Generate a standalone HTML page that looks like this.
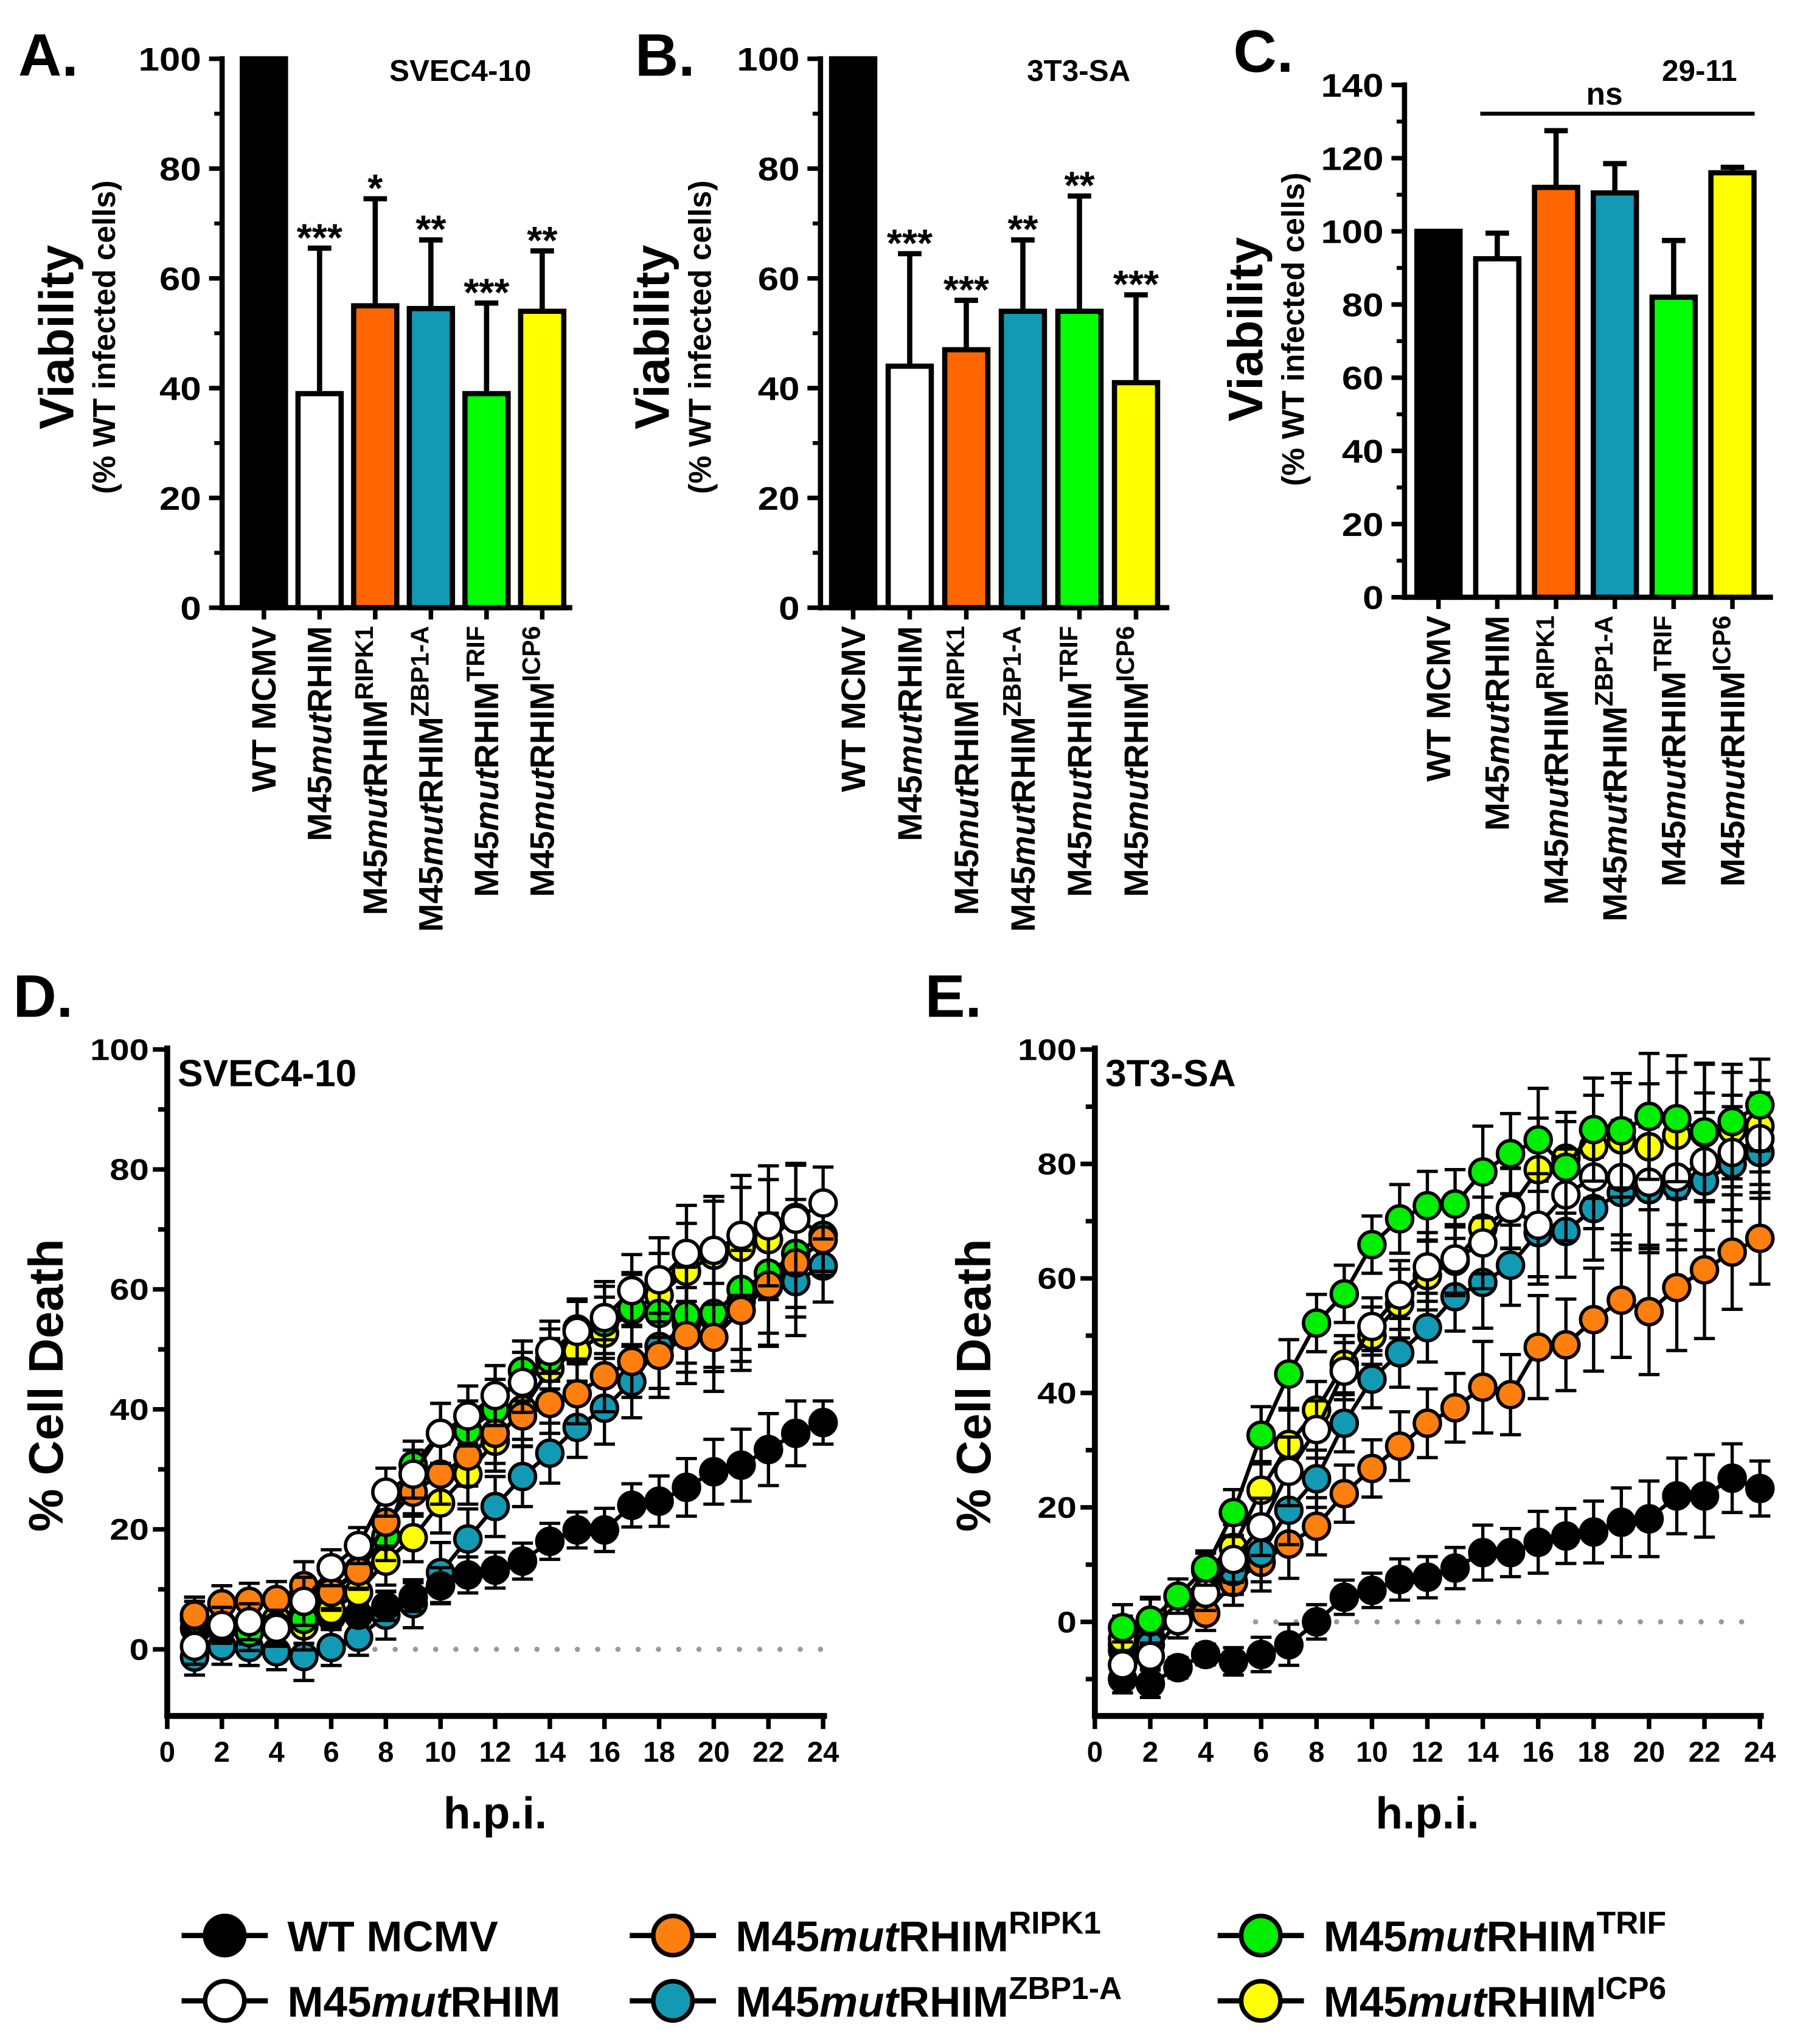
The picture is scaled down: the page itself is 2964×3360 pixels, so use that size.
<!DOCTYPE html>
<html><head><meta charset="utf-8"><style>
html,body{margin:0;padding:0;background:#fff;}
svg{display:block;font-family:"Liberation Sans",Arial,sans-serif;font-weight:bold;}
</style></head><body>
<svg id="fig" xmlns="http://www.w3.org/2000/svg" width="2964" height="3360" viewBox="0 0 1380 1564" preserveAspectRatio="none">
<rect width="1380" height="1564" fill="#fff"/>
<g font-size="46">
<text x="14" y="58">A.</text>
<text x="486" y="58">B.</text>
<text x="944" y="55">C.</text>
<text x="10" y="778">D.</text>
<text x="708" y="778">E.</text>
</g>
<g id="bars"></g>
<g id="lines"></g>
<g id="legend"></g>
</svg>
<script>
// ---------- Bar chart data ----------
const barCategories = ["WT MCMV","M45mutRHIM","M45mutRHIM|RIPK1","M45mutRHIM|ZBP1-A","M45mutRHIM|TRIF","M45mutRHIM|ICP6"];
const barColors = ["#000000","#ffffff","#ff6600","#1299b3","#00ff00","#ffff00"];
const barA = [100, 39, 55, 54.5, 39, 54];
const errA = [0, 26.5, 19.5, 12.5, 16.5, 11];
const sigA = ["", "***", "*", "**", "***", "**"];
const barB = [100, 44, 47, 54, 54, 41];
const errB = [0, 20.5, 9, 13, 21, 16];
const sigB = ["", "***", "***", "**", "**", "***"];
const barC = [100, 92.5, 112, 110.5, 82, 116];
const errC = [0, 7, 15.5, 8, 15.5, 1.5];
const ticksAB = [0,20,40,60,80,100];
const ticksC = [0,20,40,60,80,100,120,140];

// ---------- Time-course data ----------
const hours = [1,2,3,4,5,6,7,8,9,10,11,12,13,14,15,16,17,18,19,20,21,22,23,24];
const xTicks = [0,2,4,6,8,10,12,14,16,18,20,22,24];
const yTicksLine = [0,20,40,60,80,100];
// SVEC4-10 (panel D)
const dWT    = [3.5,3.5,4.6,5,6.5,5.4,5.7,7.2,8.7,10.6,12.4,13.2,14.7,18,19.9,19.9,24,24.7,27,29.6,30.7,33.3,36,37.8];
const dMut   = [0.5,4,4.6,3.5,8,13.6,17.3,26.2,29.2,36,38.9,42.3,44.5,49.7,53,55.3,59.8,61.6,66,66.5,69,70.6,71.7,74.4];
const dRIPK1 = [5.7,7.6,8,8.3,10.6,9.5,13,21.2,26.2,29.2,32.2,36,38.9,41,42.6,45.6,48,49,52.3,52,56.5,60.7,64.4,68.3];
const dZBP1  = [-1.3,0.5,0.3,-0.4,-1.2,0.3,2,5.7,7.6,12.8,18.4,23.8,28.8,32.7,37,40.2,44.6,50.5,54.2,55.3,58,60.5,61.3,63.9];
const dTRIF  = [5,4.2,2.8,3.9,5,9.8,13.2,18.8,30.7,36,36.4,40,46.4,48.4,53.4,54.5,56.8,56,55.7,56,60,62.7,66,69];
const dICP6  = [5.7,4,3.9,5,3.9,6.5,9.5,14.7,18.6,24.4,29.2,34.7,40,46.8,49.7,52.7,56.5,59,63,65.7,67,68.3,72,69];
const dErr   = [3,3,3,3,4,3,3,4,4,5,5,5,5,5,5,6,6,7,8,9,10,10,9,6];
// 3T3-SA (panel E)
const eWT    = [-10,-10.8,-8,-5.7,-6.9,-5.7,-4,0,4.3,5.5,7.4,7.8,9.4,12.1,12.1,13.9,15,15.7,17.4,18,22,22,25.1,23.3];
const eMut   = [-7.5,-6,0.2,5,10.9,16.6,26.3,33.6,43.8,51.6,57.1,62,63.4,66.2,72.2,69.3,74.6,77.7,77.6,76.8,77.7,80.4,82,84.4];
const eRIPK1 = [-5,-2.6,0.2,1.5,6.9,10.4,13.6,16.7,22.4,26.8,30.7,34.7,37.4,41,39.7,48,48.4,52.8,56.2,54.2,58.4,61.5,64.6,67];
const eZBP1  = [-4,-4,2,5,8.8,12,19.5,25,34.7,42.4,47,51.4,56.8,59.3,62.3,68,68.2,72.2,75,75.5,76,77,80,82];
const eTRIF  = [-1,0.3,4.5,9.4,19.1,32.6,43.3,52.2,57.3,65.9,70.4,72.7,73,78.6,81.8,84.2,79.4,86,85.8,88.3,87.9,85.6,87.4,90.3];
const eICP6  = [-3,0,2,9,13,23,31,37,45,50,55.6,60.5,63,68.8,72.3,79,81,83,84.2,83,85,85.4,86,86.6];
const eErr   = [4,4,3,3,4,5,6,5,5,5,6,6,6,8,7,9,8,9,10,11,11,12,10,8];

const NS="http://www.w3.org/2000/svg";
function el(tag, attrs, parent){const e=document.createElementNS(NS,tag);for(const k in attrs)e.setAttribute(k,attrs[k]);if(parent)parent.appendChild(e);return e;}

function catLabel(parent, x, y, label, fs){
  const t=el('text',{x:0,y:0,'font-size':fs,'text-anchor':'end',transform:`translate(${x},${y}) rotate(-90)`},parent);
  
  
  if(label.startsWith("M45")){
    const parts=label.split("|");
    el('tspan',{},t).textContent="M45";
    el('tspan',{'font-style':'italic'},t).textContent="mut";
    el('tspan',{},t).textContent="RHIM";
    if(parts[1]){const s=el('tspan',{'baseline-shift':'super','font-size':fs*0.74},t);s.textContent=parts[1];}
  } else t.textContent=label;
}

function barChart(o){
  const g=el('g',{},document.getElementById('bars'));
  
  
  const y=v=>o.y0-(v/o.ymax)*(o.y0-o.ytop);
  el('line',{x1:o.ax,y1:y(o.ymax)-2,x2:o.ax,y2:o.y0+2,stroke:'#000','stroke-width':4},g);
  el('line',{x1:o.ax-2,y1:o.y0,x2:o.xend,y2:o.y0,stroke:'#000','stroke-width':4},g);
  o.ticks.forEach((tv,i)=>{
    el('line',{x1:o.ax-10,y1:y(tv),x2:o.ax,y2:y(tv),stroke:'#000','stroke-width':3.5},g);
    if(i<o.ticks.length-1){const m=(tv+o.ticks[i+1])/2;el('line',{x1:o.ax-6,y1:y(m),x2:o.ax,y2:y(m),stroke:'#000','stroke-width':3},g);}
    const t=el('text',{x:o.ax-16,y:y(tv)+9,'font-size':25,'text-anchor':'end',textLength:(String(tv).length*16),lengthAdjust:'spacingAndGlyphs'},g);
    
    
    t.textContent=tv;
  });
  o.vals.forEach((v,i)=>{
    const cx=o.x0+i*o.step;
    const r=el('rect',{x:cx-o.bw/2,y:y(v),width:o.bw,height:o.y0-y(v),fill:barColors[i],stroke:'#000','stroke-width':4},g);
    
    
    if(o.err[i]>0){
      el('line',{x1:cx,y1:y(v),x2:cx,y2:y(v+o.err[i]),stroke:'#000','stroke-width':4},g);
      el('line',{x1:cx-9,y1:y(v+o.err[i]),x2:cx+9,y2:y(v+o.err[i]),stroke:'#000','stroke-width':4},g);
    }
    if(o.sig&&o.sig[i]){
      const s=el('text',{x:cx,y:y(v+o.err[i])+2,'font-size':30,'text-anchor':'middle'},g);
      
      
      s.textContent=o.sig[i];
    }
    el('line',{x1:cx,y1:o.y0,x2:cx,y2:o.y0+9,stroke:'#000','stroke-width':3.5},g);
    catLabel(g,cx+9,o.y0+14,barCategories[i],26);
  });
  const tt=el('text',{x:o.titleX,y:o.titleY,'font-size':23},g);
  
  
  tt.textContent=o.title;
  const yt=el('text',{x:0,y:0,'font-size':37,'text-anchor':'middle',transform:`translate(${o.ytx},${o.tcy}) rotate(-90)`},g);
  
  
  yt.textContent="Viability";
  const ys=el('text',{x:0,y:0,'font-size':24,'text-anchor':'middle','font-weight':'bold',transform:`translate(${o.ytx+32},${o.tcy}) rotate(-90)`},g);
  
  
  ys.textContent="(% WT infected cells)";
  return {g,y};
}
barChart({name:'panel-a-chart',vals:barA,err:errA,sig:sigA,ymax:100,ytop:45,y0:465,ax:170,xend:438,x0:202,step:42.6,bw:33,ticks:ticksAB,title:'SVEC4-10',titleX:298,titleY:62,ytx:56,tcy:258});
barChart({name:'panel-b-chart',vals:barB,err:errB,sig:sigB,ymax:100,ytop:45,y0:465,ax:628,xend:895,x0:653,step:43.3,bw:33,ticks:ticksAB,title:'3T3-SA',titleX:786,titleY:62,ytx:512,tcy:258});
const bc=barChart({name:'panel-c-chart',vals:barC,err:errC,sig:null,ymax:140,ytop:65,y0:457,ax:1075,xend:1357,x0:1101,step:45,bw:33,ticks:ticksC,title:'29-11',titleX:1272,titleY:62,ytx:966,tcy:252});
const ns=el('line',{x1:1133,y1:87,x2:1343,y2:87,stroke:'#000','stroke-width':3},bc.g);


const nst=el('text',{x:1228,y:80,'font-size':24,'text-anchor':'middle'},bc.g);


nst.textContent="ns";

// ---------- line charts ----------
const seriesColors={wt:'#000000',mut:'#ffffff',ripk1:'#ff7f0e',zbp1:'#1299b3',trif:'#00ee00',icp6:'#ffff00'};
function lineChart(o){
  const g=el('g',{},document.getElementById('lines'));
  
  
  const X=h=>o.x0+(h/24)*(o.x24-o.x0);
  const Y=v=>o.yZero-(v/100)*(o.yZero-o.y100);
  el('line',{x1:o.x0,y1:o.y100-3,x2:o.x0,y2:o.yAxis+2,stroke:'#000','stroke-width':4.5},g);
  el('line',{x1:o.x0-2,y1:o.yAxis,x2:o.x24+3,y2:o.yAxis,stroke:'#000','stroke-width':4.5},g);
  xTicks.forEach(h=>{
    el('line',{x1:X(h),y1:o.yAxis,x2:X(h),y2:o.yAxis+10,stroke:'#000','stroke-width':3.5},g);
    const t=el('text',{x:X(h),y:o.yAxis+35,'font-size':22,'text-anchor':'middle'},g);
    
    
    t.textContent=h;
  });
  for(let v=o.ymin;v<=100;v+=10){
    const major=v%20===0;
    el('line',{x1:o.x0-(major?11:7),y1:Y(v),x2:o.x0,y2:Y(v),stroke:'#000','stroke-width':3.5},g);
    if(major){
      const t=el('text',{x:o.x0-14,y:Y(v)+8,'font-size':23,'text-anchor':'end',textLength:String(v).length*15,lengthAdjust:'spacingAndGlyphs'},g);
      
      
      t.textContent=v;
    }
  }
  const dl=el('line',{x1:X(o.dotStart),y1:Y(0),x2:X(24),y2:Y(0),stroke:'#999','stroke-width':4,'stroke-dasharray':'0 15.5','stroke-linecap':'round'},g);
  
  
  const xt=el('text',{x:(o.x0+o.x24)/2,y:o.yAxis+86,'font-size':34,'text-anchor':'middle'},g);
  
  
  xt.textContent="h.p.i.";
  const yt=el('text',{x:0,y:0,'font-size':37,'text-anchor':'middle',transform:`translate(${o.ytx},${o.tcy}) rotate(-90)`},g);
  
  
  yt.textContent="% Cell Death";
  const ct=el('text',{x:o.x0+8,y:o.y100+28,'font-size':29},g);
  
  
  ct.textContent=o.title;
  o.series.forEach(s=>{
    const sg=el('g',{},g);
    
    
    const pts=hours.map((h,i)=>X(h)+','+Y(s.vals[i])).join(' ');
    el('polyline',{points:pts,fill:'none',stroke:'#000','stroke-width':3},sg);
    hours.forEach((h,i)=>{
      const e=o.err[i]*(s.key==='wt'?0.6:1);
      el('line',{x1:X(h),y1:Y(s.vals[i]+e),x2:X(h),y2:Y(s.vals[i]-e),stroke:'#000','stroke-width':2.5},sg);
      el('line',{x1:X(h)-8,y1:Y(s.vals[i]+e),x2:X(h)+8,y2:Y(s.vals[i]+e),stroke:'#000','stroke-width':2.5},sg);
      el('line',{x1:X(h)-8,y1:Y(s.vals[i]-e),x2:X(h)+8,y2:Y(s.vals[i]-e),stroke:'#000','stroke-width':2.5},sg);
    });
    hours.forEach((h,i)=>{
      const c=el('circle',{cx:X(h),cy:Y(s.vals[i]),r:10,fill:seriesColors[s.key],stroke:'#000','stroke-width':2.6},sg);
      
      
    });
  });
}
lineChart({name:'panel-d-chart',title:'SVEC4-10',x0:128,x24:630,y100:803,yZero:1262,yAxis:1313,ymin:0,dotStart:7.6,ytx:48,tcy:1060,err:dErr,
  series:[{key:'zbp1',vals:dZBP1},{key:'wt',vals:dWT},{key:'icp6',vals:dICP6},{key:'trif',vals:dTRIF},{key:'ripk1',vals:dRIPK1},{key:'mut',vals:dMut}]});
lineChart({name:'panel-e-chart',title:'3T3-SA',x0:838,x24:1347,y100:803,yZero:1241,yAxis:1313,ymin:-10,dotStart:5.8,ytx:758,tcy:1060,err:eErr,
  series:[{key:'wt',vals:eWT},{key:'ripk1',vals:eRIPK1},{key:'zbp1',vals:eZBP1},{key:'icp6',vals:eICP6},{key:'mut',vals:eMut},{key:'trif',vals:eTRIF}]});

// ---------- legend ----------
const legendItems=[
 {key:'wt',label:'WT MCMV',sup:'',cx:172,cy:1481},
 {key:'mut',label:'M45mutRHIM',sup:'',cx:172,cy:1531},
 {key:'ripk1',label:'M45mutRHIM',sup:'RIPK1',cx:515,cy:1481},
 {key:'zbp1',label:'M45mutRHIM',sup:'ZBP1-A',cx:515,cy:1531},
 {key:'trif',label:'M45mutRHIM',sup:'TRIF',cx:965,cy:1481},
 {key:'icp6',label:'M45mutRHIM',sup:'ICP6',cx:965,cy:1531}];
const lg=document.getElementById('legend');
legendItems.forEach(it=>{
  const g=el('g',{},lg);
  
  
  el('line',{x1:it.cx-33,y1:it.cy,x2:it.cx+33,y2:it.cy,stroke:'#000','stroke-width':4},g);
  el('circle',{cx:it.cx,cy:it.cy,r:15,fill:seriesColors[it.key],stroke:'#000','stroke-width':3.5},g);
  const t=el('text',{x:it.cx+48,y:it.cy+12,'font-size':33},g);
  if(it.label.startsWith('M45')){
    el('tspan',{},t).textContent='M45';
    el('tspan',{'font-style':'italic'},t).textContent='mut';
    el('tspan',{},t).textContent='RHIM';
    if(it.sup){el('tspan',{'baseline-shift':'super','font-size':24},t).textContent=it.sup;}
  } else t.textContent=it.label;
});
</script>
</body></html>
